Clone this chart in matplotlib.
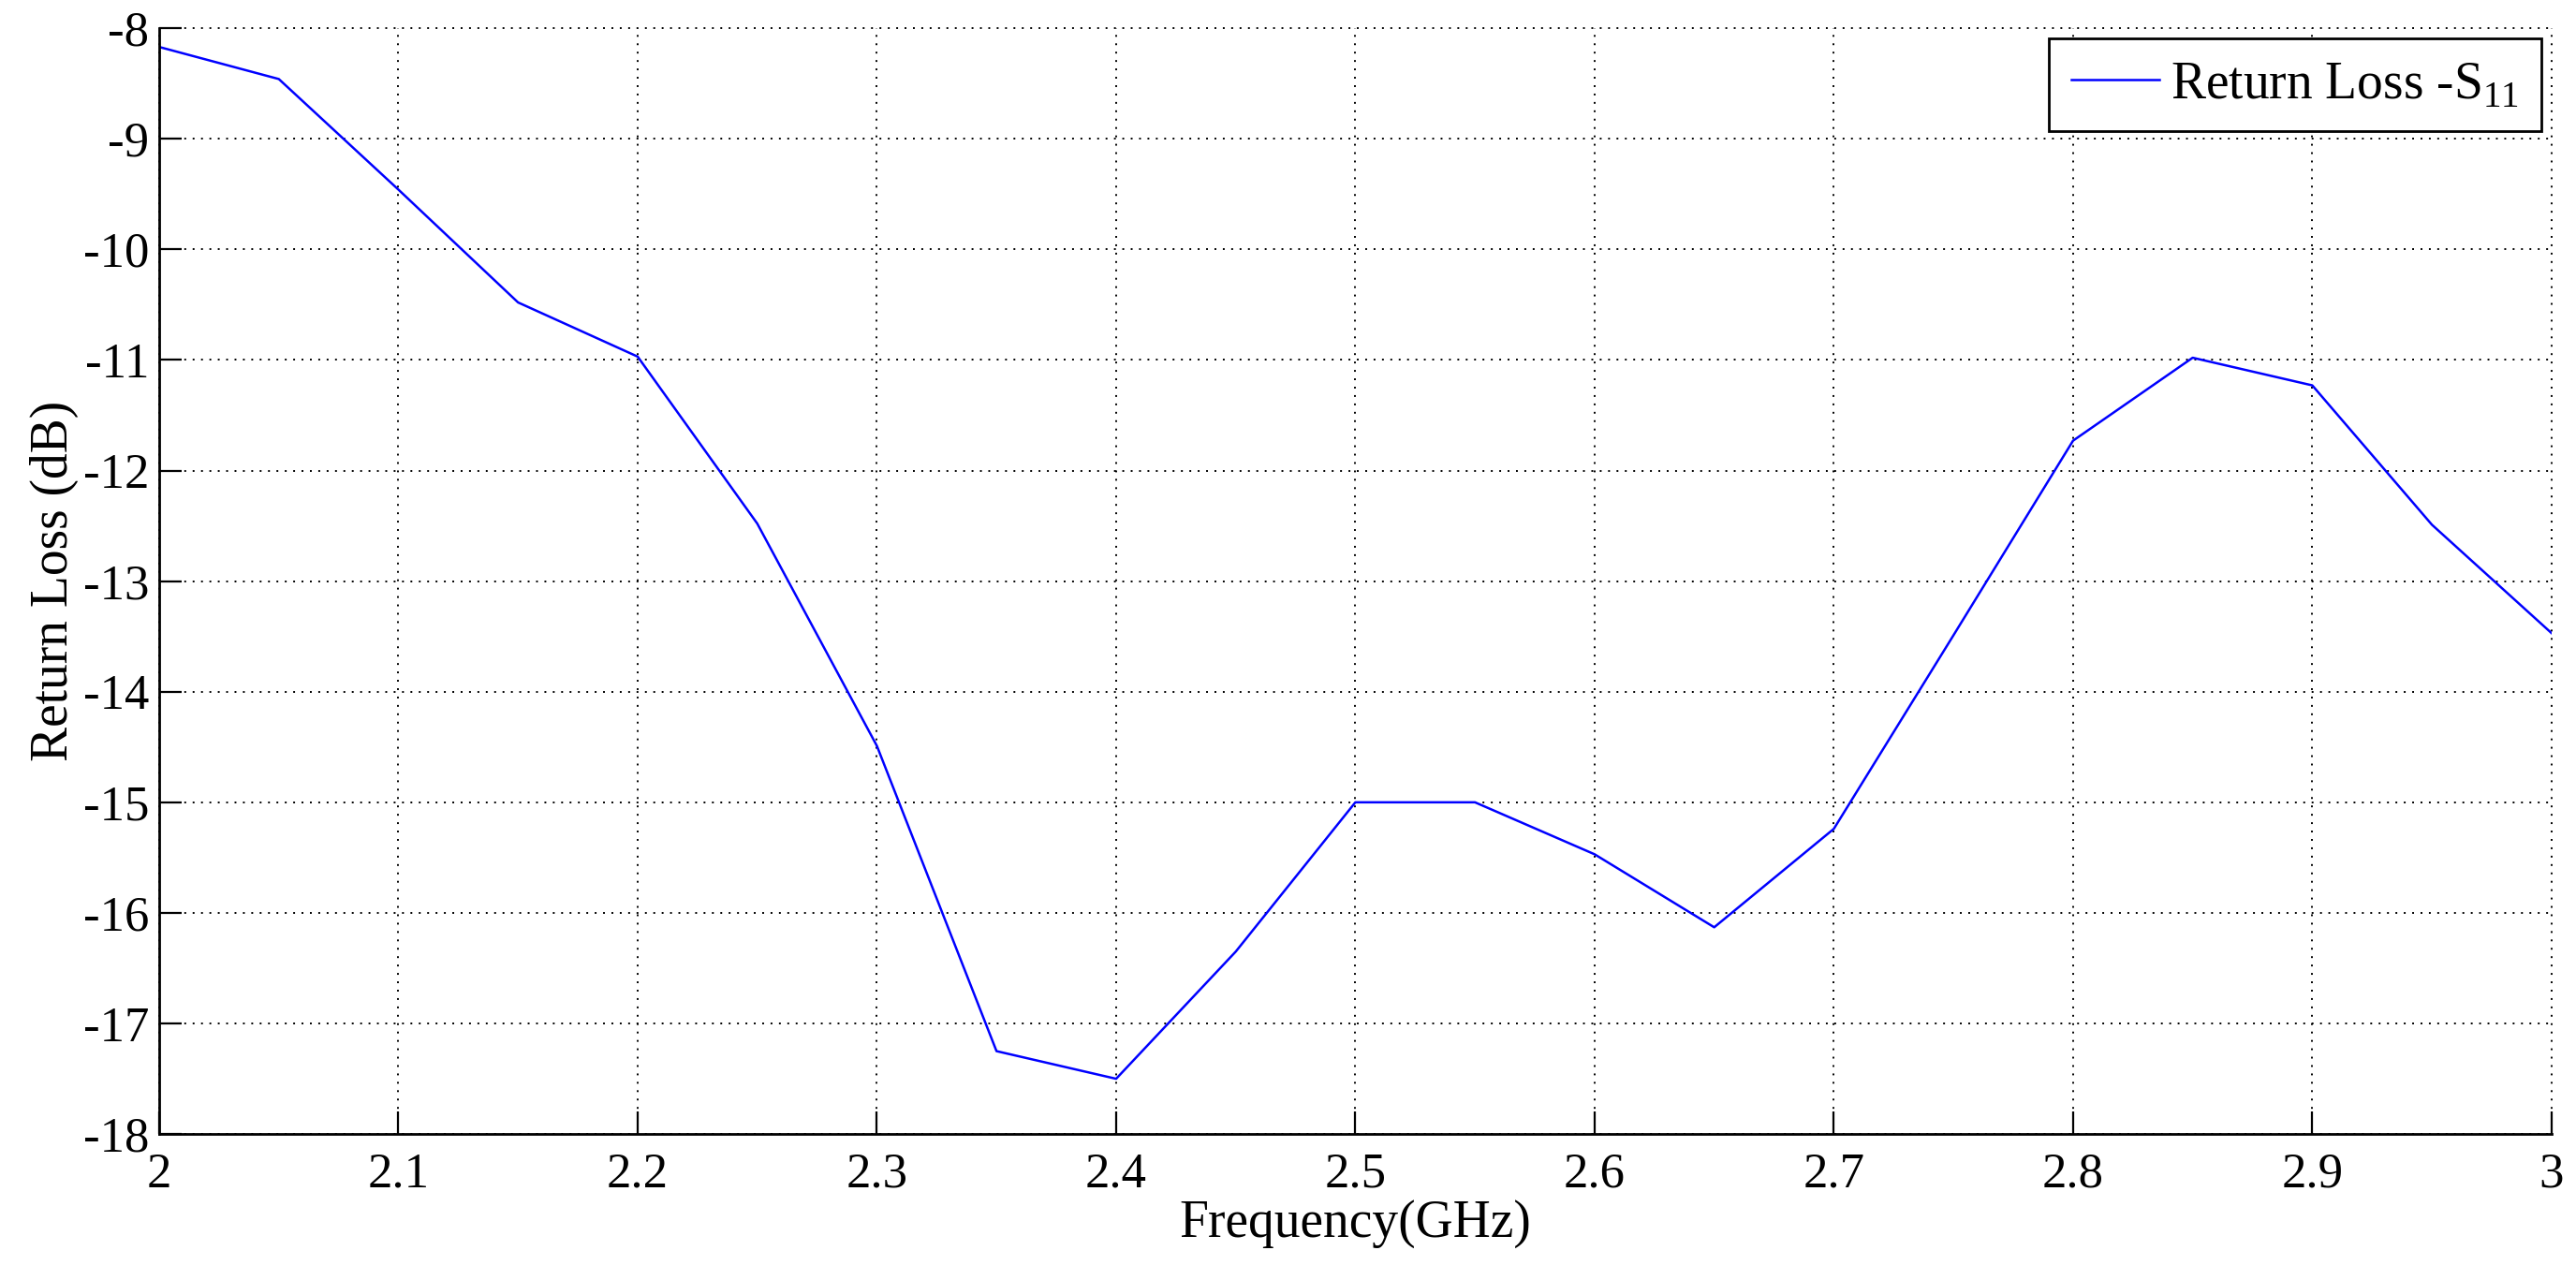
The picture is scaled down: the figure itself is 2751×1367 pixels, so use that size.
import matplotlib

matplotlib.use("Agg")
from matplotlib import pyplot as plt
from matplotlib.ticker import FuncFormatter

# frequency sweep (GHz) and measured return loss (dB)
freq_ghz = [2.00, 2.05, 2.10, 2.15, 2.20, 2.25, 2.30, 2.35, 2.40, 2.45, 2.50,
            2.55, 2.60, 2.65, 2.70, 2.75, 2.80, 2.85, 2.90, 2.95, 3.00]
return_loss_db = [-8.17, -8.46, -9.46, -10.48, -10.97, -12.48, -14.49, -17.25, -17.50, -16.35, -15.00,
                  -15.00, -15.47, -16.13, -15.24, -13.49, -11.73, -10.98, -11.23, -12.49, -13.47]

x_ticks = [2.0, 2.1, 2.2, 2.3, 2.4, 2.5, 2.6, 2.7, 2.8, 2.9, 3.0]
y_ticks = [-18, -17, -16, -15, -14, -13, -12, -11, -10, -9, -8]

TICK_FONT = 38
LABEL_FONT = 40
LEGEND_FONT = 40

plt.rcParams["font.family"] = ["Liberation Serif", "DejaVu Serif"]
plt.rcParams["mathtext.fontset"] = "custom"
plt.rcParams["mathtext.rm"] = "Liberation Serif"
plt.rcParams["axes.unicode_minus"] = False

fig = plt.figure(figsize=(27.51, 13.67), dpi=100, facecolor="white")
ax = fig.add_axes([0.0618, 0.114, 0.9287, 0.864])

ax.plot(freq_ghz, return_loss_db, color="#0000ff", linewidth=1.8, label=r"Return Loss -S$_{\mathrm{11}}$")

ax.set_xlim(2, 3)
ax.set_ylim(-18, -8)
ax.set_xticks(x_ticks)
ax.set_yticks(y_ticks)
ax.xaxis.set_major_formatter(FuncFormatter(lambda v, _: f"{v:g}"))
ax.yaxis.set_major_formatter(FuncFormatter(lambda v, _: f"{v:g}"))

# matlab style: dotted grid, no box on top/right
ax.grid(True, color="black", linestyle=(0, (1, 3.6)), linewidth=1.4)
for line in ax.get_xgridlines() + ax.get_ygridlines():
    line.set_clip_on(False)
ax.spines["top"].set_visible(False)
ax.spines["right"].set_visible(False)
for side in ("left", "bottom"):
    ax.spines[side].set_linewidth(2.0)
    ax.spines[side].set_color("black")

ax.tick_params(axis="both", direction="in", length=17, width=1.6, labelsize=TICK_FONT)
ax.tick_params(axis="x", pad=14)
ax.tick_params(axis="y", pad=8)

ax.set_xlabel("Frequency(GHz)", fontsize=LABEL_FONT, labelpad=2)
ax.set_ylabel("Return Loss (dB)", fontsize=LABEL_FONT, labelpad=3)

legend = ax.legend(loc="upper right", fontsize=LEGEND_FONT, handlelength=1.7, handletextpad=0.22,
                   borderpad=0.42, borderaxespad=0.2, fancybox=False, framealpha=1.0,
                   edgecolor="black")
legend.get_frame().set_linewidth(2.0)

fig.savefig("out.png", dpi=100, facecolor="white")
plt.close(fig)
